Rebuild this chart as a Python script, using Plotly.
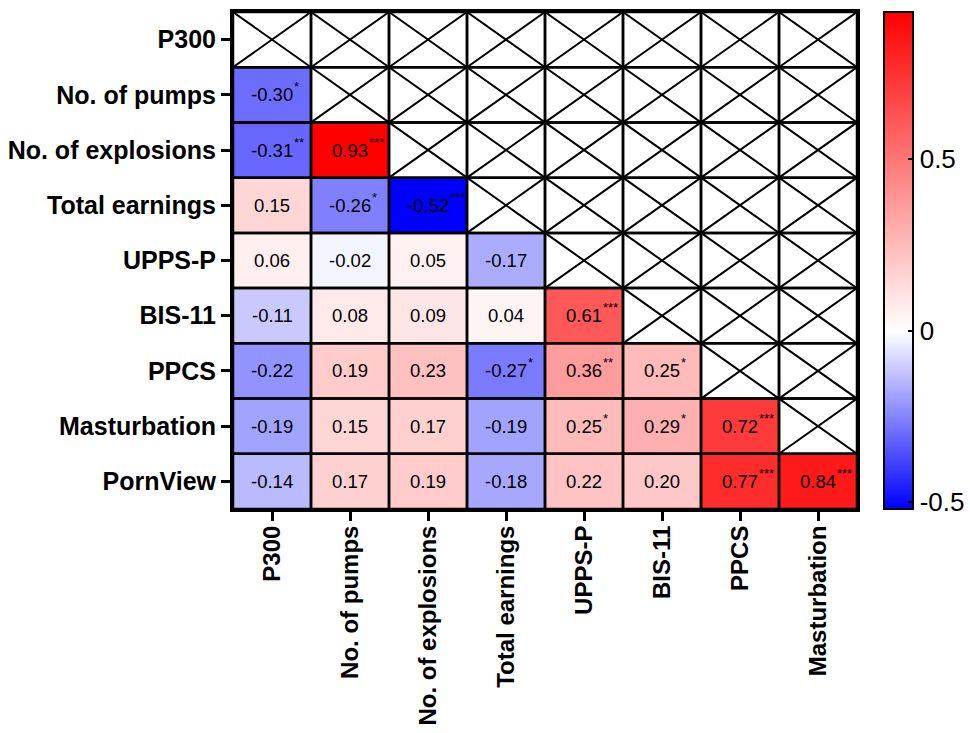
import plotly.graph_objects as go

# ---------------- data ----------------
row_labels = ["P300", "No. of pumps", "No. of explosions", "Total earnings",
              "UPPS-P", "BIS-11", "PPCS", "Masturbation", "PornView"]
col_labels = ["P300", "No. of pumps", "No. of explosions", "Total earnings",
              "UPPS-P", "BIS-11", "PPCS", "Masturbation"]

r_p300 = []
r_pumps = [-0.30]
r_explosions = [-0.31, 0.93]
r_earnings = [0.15, -0.26, -0.52]
r_upps = [0.06, -0.02, 0.05, -0.17]
r_bis = [-0.11, 0.08, 0.09, 0.04, 0.61]
r_ppcs = [-0.22, 0.19, 0.23, -0.27, 0.36, 0.25]
r_mast = [-0.19, 0.15, 0.17, -0.19, 0.25, 0.29, 0.72]
r_porn = [-0.14, 0.17, 0.19, -0.18, 0.22, 0.20, 0.77, 0.84]

s_p300 = []
s_pumps = ["*"]
s_explosions = ["**", "***"]
s_earnings = ["", "*", "***"]
s_upps = ["", "", "", ""]
s_bis = ["", "", "", "", "***"]
s_ppcs = ["", "", "", "*", "**", "*"]
s_mast = ["", "", "", "", "*", "*", "***"]
s_porn = ["", "", "", "", "", "", "***", "***"]

colorbar_ticks = [-0.5, 0, 0.5]
zmin, zmax = -0.52, 0.93

values = [r_p300, r_pumps, r_explosions, r_earnings, r_upps, r_bis, r_ppcs, r_mast, r_porn]
stars = [s_p300, s_pumps, s_explosions, s_earnings, s_upps, s_bis, s_ppcs, s_mast, s_porn]

nrow, ncol = len(row_labels), len(col_labels)
z = [v + [None] * (ncol - len(v)) for v in values]

FONT = "Arial, Liberation Sans, sans-serif"
mid = (0 - zmin) / (zmax - zmin)
colorscale = [[0, "rgb(0,0,255)"], [mid, "rgb(255,255,255)"], [1, "rgb(255,0,0)"]]

fig = go.Figure()
fig.add_trace(go.Heatmap(
    z=z, x=list(range(ncol)), y=list(range(nrow)),
    zmin=zmin, zmax=zmax, colorscale=colorscale,
    hoverongaps=False,
    colorbar=dict(
        x=1.043, xanchor="left", xpad=0, ypad=0,
        y=0.5, yanchor="middle", len=1.0, lenmode="fraction",
        thickness=29, outlinecolor="black", outlinewidth=2,
        tickvals=colorbar_ticks, ticktext=["-0.5", "0", "0.5"],
        ticks="inside", ticklen=6, tickwidth=2, tickcolor="black",
        tickfont=dict(family=FONT, size=26, color="black"),
    ),
))

shapes = []
annotations = []
charw = {"-": 0.333, ".": 0.278}
NUM = 18.5
for i in range(nrow):
    for j in range(ncol):
        shapes.append(dict(type="rect", xref="x", yref="y",
                           x0=j - 0.5, x1=j + 0.5, y0=i - 0.5, y1=i + 0.5,
                           line=dict(color="black", width=2.5), layer="above"))
        if j >= len(values[i]):
            shapes.append(dict(type="line", xref="x", yref="y",
                               x0=j - 0.5, x1=j + 0.5, y0=i - 0.5, y1=i + 0.5,
                               line=dict(color="black", width=2), layer="above"))
            shapes.append(dict(type="line", xref="x", yref="y",
                               x0=j - 0.5, x1=j + 0.5, y0=i + 0.5, y1=i - 0.5,
                               line=dict(color="black", width=2), layer="above"))
        else:
            txt = f"{values[i][j]:.2f}"
            annotations.append(dict(x=j, y=i, xref="x", yref="y", text=txt,
                                    showarrow=False,
                                    font=dict(family=FONT, size=NUM, color="black")))
            st = stars[i][j]
            if st:
                w = sum(charw.get(c, 0.556) for c in txt) * NUM
                annotations.append(dict(x=j, y=i, xref="x", yref="y", text=st,
                                        showarrow=False, xanchor="left",
                                        xshift=w / 2 - 1,
                                        yshift=8,
                                        font=dict(family=FONT, size=13, color="black")))

fig.update_layout(
    width=970, height=733,
    margin=dict(l=233, r=113, t=12, b=224, autoexpand=False),
    paper_bgcolor="white", plot_bgcolor="white",
    shapes=shapes, annotations=annotations,
    xaxis=dict(range=[-0.5, ncol - 0.5], tickvals=list(range(ncol)), ticktext=col_labels,
               tickangle=-90, ticks="outside", ticklen=9, tickwidth=3, tickcolor="black",
               ticklabelstandoff=-5,
               showgrid=False, zeroline=False, showline=True, linecolor="black",
               linewidth=3, mirror=True,
               tickfont=dict(family=FONT, size=24, color="black", weight="bold")),
    yaxis=dict(range=[nrow - 0.5, -0.5], tickvals=list(range(nrow)), ticktext=row_labels,
               ticks="outside", ticklen=9, tickwidth=3, tickcolor="black",
               showgrid=False, zeroline=False, showline=True, linecolor="black",
               linewidth=3, mirror=True,
               tickfont=dict(family=FONT, size=25, color="black", weight="bold")),
)

fig.write_html("out.html")
